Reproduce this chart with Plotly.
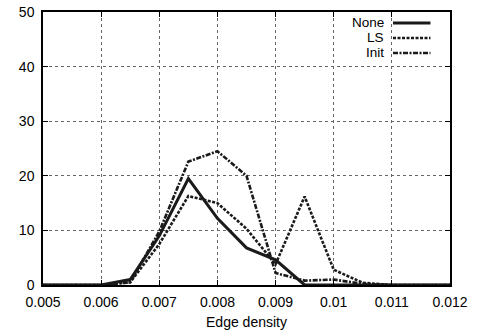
import plotly.graph_objects as go

edge_density = [0.005, 0.0055, 0.006, 0.0065, 0.007, 0.0075, 0.008, 0.0085,
                0.009, 0.0095, 0.01, 0.0105, 0.011, 0.0115, 0.012]
none_vals = [0, 0, 0, 1.0, 9.0, 19.5, 12.2, 6.8, 4.6, 0, 0, 0, 0, 0, 0]
ls_vals = [0, 0, 0, 0.5, 7.5, 16.3, 15.0, 10.3, 3.8, 16.2, 2.8, 0.4, 0, 0, 0]
init_vals = [0, 0, 0, 0.5, 9.8, 22.6, 24.5, 20.0, 2.2, 0.8, 1.0, 0.2, 0, 0, 0]

series_names = ["None", "LS", "Init"]
series_vals = [none_vals, ls_vals, init_vals]
dashes = ["solid", "3px,1.5px", "5px,1.5px,2px,1.5px"]
widths = [3, 2.6, 2.6]

x_ticks = [0.005, 0.006, 0.007, 0.008, 0.009, 0.01, 0.011, 0.012]
x_ticktext = ["0.005", "0.006", "0.007", "0.008", "0.009", "0.01", "0.011", "0.012"]
y_ticks = [0, 10, 20, 30, 40, 50]

FONT = "Liberation Sans, Arial, sans-serif"

fig = go.Figure()
for name, vals, d, w in zip(series_names, series_vals, dashes, widths):
    fig.add_trace(go.Scatter(x=edge_density, y=vals, mode="lines", name=name,
                             line=dict(color="#1a1a1a", width=w, dash=d),
                             showlegend=False, cliponaxis=False))

# custom gnuplot-style legend (text left, sample right)
legend_rows = [0.960, 0.905, 0.850]
shapes = [dict(type="rect", xref="paper", yref="paper", x0=0.73, x1=0.988,
               y0=0.825, y1=0.98, fillcolor="white", line=dict(width=0),
               layer="between")]
annotations = []
for name, d, w, yy in zip(series_names, dashes, widths, legend_rows):
    annotations.append(dict(xref="paper", yref="paper", x=0.840, y=yy, text=name,
                            showarrow=False, xanchor="right", yanchor="middle",
                            borderpad=0,
                            font=dict(family=FONT, size=13.5, color="black")))
    shapes.append(dict(type="line", xref="paper", yref="paper", x0=0.860, x1=0.952,
                       y0=yy, y1=yy, line=dict(color="#1a1a1a", width=w, dash=d)))

fig.update_layout(
    width=480, height=335,
    margin=dict(l=43, r=30, t=12, b=50),
    paper_bgcolor="white", plot_bgcolor="white",
    font=dict(family=FONT, size=14, color="black"),
    shapes=shapes, annotations=annotations,
    showlegend=False,
)
fig.update_xaxes(range=[0.005, 0.012], tickvals=x_ticks, ticktext=x_ticktext,
                 showgrid=True, gridcolor="#666", griddash="dot", gridwidth=1,
                 showline=True, linecolor="black", linewidth=1.5, mirror="ticks",
                 ticks="inside", ticklen=5, tickcolor="black", zeroline=False,
                 automargin=False,
                 title=dict(text="Edge density", font=dict(size=14), standoff=9),
                 tickfont=dict(size=14), ticklabelstandoff=3)
fig.update_yaxes(range=[0, 50], tickvals=y_ticks,
                 showgrid=True, gridcolor="#666", griddash="dot", gridwidth=1,
                 showline=True, linecolor="black", linewidth=1.5, mirror="ticks",
                 ticks="inside", ticklen=5, tickcolor="black", zeroline=False,
                 automargin=False,
                 tickfont=dict(size=14), ticklabelstandoff=4)

fig.write_html("out.html", config={"displayModeBar": False},
               post_script="document.body.style.margin='0';document.body.style.padding='0';")
